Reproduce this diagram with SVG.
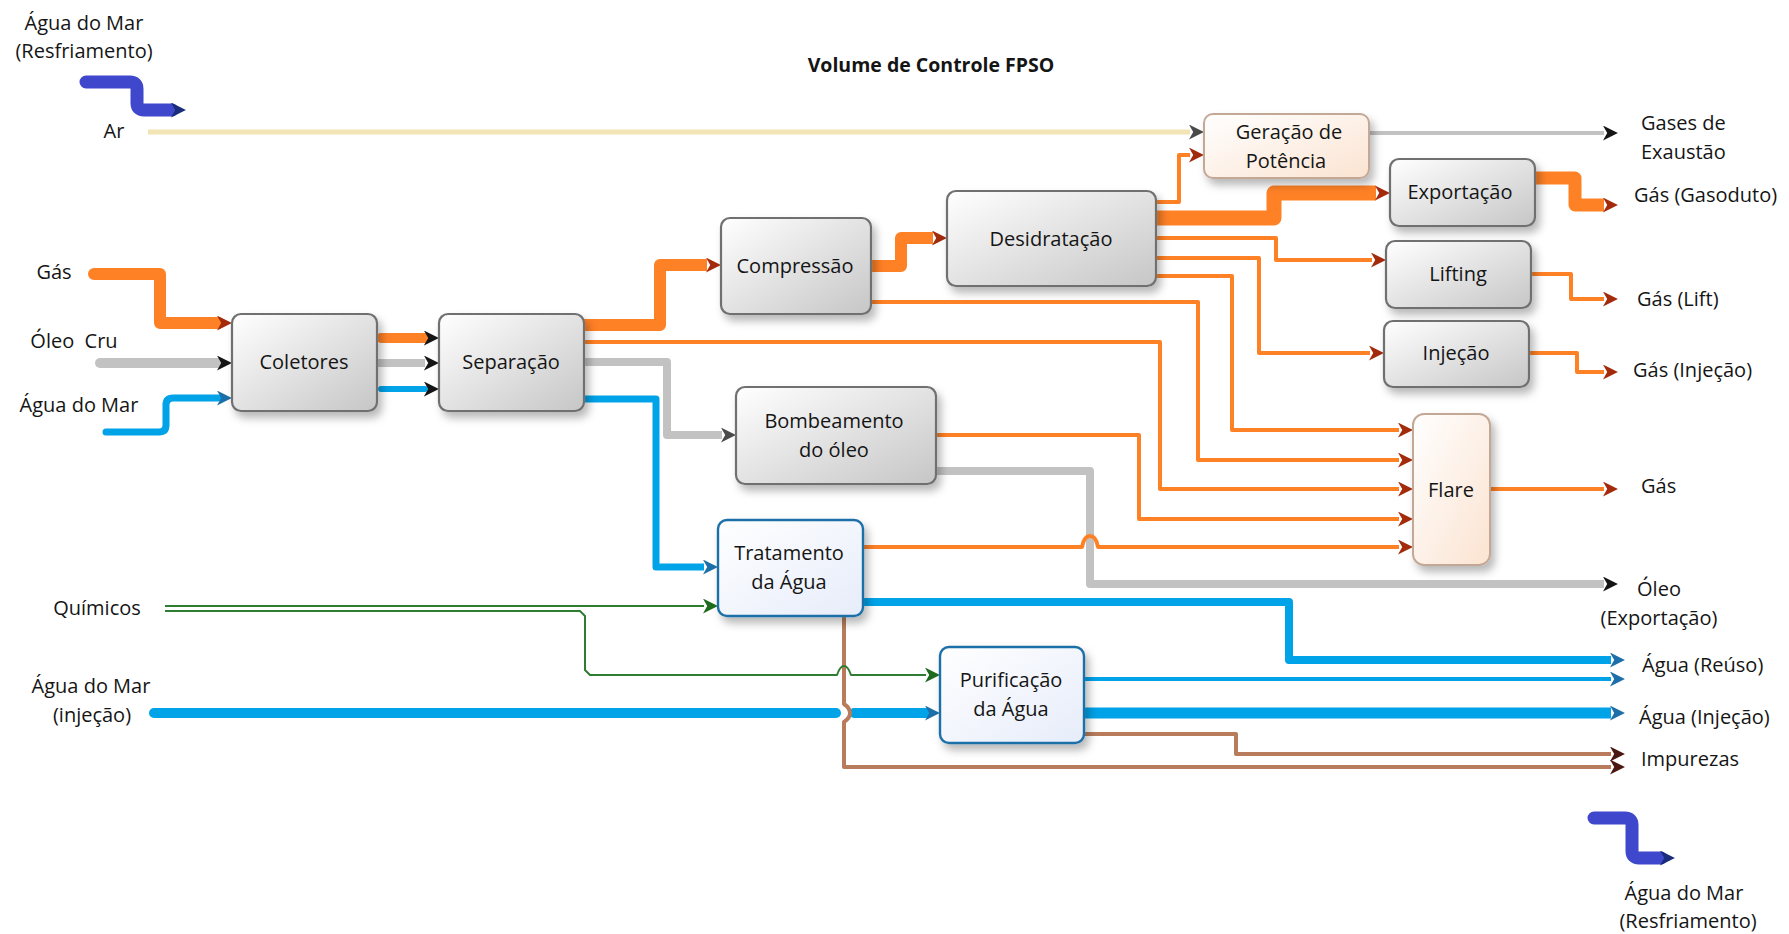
<svg xmlns="http://www.w3.org/2000/svg" width="1789" height="934" viewBox="0 0 1789 934">
  <style>
    text { font-family: "Open Sans", "Liberation Sans", sans-serif; font-size: 20px; fill: #151515; white-space: pre; }
    .c { text-anchor: middle; }
    .title { font-weight: bold; font-size: 19.5px; }
    .box { fill: url(#gGray); stroke: #707070; stroke-width: 2.2; filter: url(#shadow); }
    .peach { fill: url(#gPeach); stroke: #C4A896; stroke-width: 2; filter: url(#shadow); }
    .blue { fill: url(#gBlue); stroke: #1F70A8; stroke-width: 2.4; filter: url(#shadow); }
    .ln { fill: none; stroke-linejoin: round; }
    .or { stroke: #FF8126; }
    .gr { stroke: #C2C2C2; }
    .bl { stroke: #00A2E8; }
    .br { stroke: #B87C5C; }
    .gn { stroke: #2E7D32; }
    .cool { stroke: #3F47CC; stroke-width: 13; stroke-linecap: round; }
  </style>
  <defs>
    <linearGradient id="gGray" x1="0" y1="0" x2="1" y2="1">
      <stop offset="0" stop-color="#FFFFFF"/>
      <stop offset="1" stop-color="#C6C6C6"/>
    </linearGradient>
    <linearGradient id="gPeach" x1="0" y1="0" x2="1" y2="1">
      <stop offset="0" stop-color="#FFFFFF"/>
      <stop offset="1" stop-color="#FBE3D1"/>
    </linearGradient>
    <linearGradient id="gBlue" x1="0" y1="0" x2="1" y2="1">
      <stop offset="0" stop-color="#FFFFFF"/>
      <stop offset="1" stop-color="#E6ECFA"/>
    </linearGradient>
    <filter id="shadow" x="-20%" y="-20%" width="150%" height="150%">
      <feDropShadow dx="4" dy="6" stdDeviation="4" flood-color="#000" flood-opacity="0.28"/>
    </filter>
    <marker id="aRed" viewBox="0 0 14 14" markerWidth="15" markerHeight="15" refX="1" refY="7" orient="auto" markerUnits="userSpaceOnUse">
      <path d="M0,0 L14,7 L0,14 L4,7 z" fill="#A32B0C"/>
    </marker>
    <marker id="aBlk" viewBox="0 0 14 14" markerWidth="15" markerHeight="15" refX="1" refY="7" orient="auto" markerUnits="userSpaceOnUse">
      <path d="M0,0 L14,7 L0,14 L4,7 z" fill="#151515"/>
    </marker>
    <marker id="aGry" viewBox="0 0 14 14" markerWidth="15" markerHeight="15" refX="1" refY="7" orient="auto" markerUnits="userSpaceOnUse">
      <path d="M0,0 L14,7 L0,14 L4,7 z" fill="#4A4A4A"/>
    </marker>
    <marker id="aBlu" viewBox="0 0 14 14" markerWidth="15" markerHeight="15" refX="1" refY="7" orient="auto" markerUnits="userSpaceOnUse">
      <path d="M0,0 L14,7 L0,14 L4,7 z" fill="#1C6FA8"/>
    </marker>
    <marker id="aGrn" viewBox="0 0 14 14" markerWidth="15" markerHeight="15" refX="1" refY="7" orient="auto" markerUnits="userSpaceOnUse">
      <path d="M0,0 L14,7 L0,14 L4,7 z" fill="#1E6B1E"/>
    </marker>
    <marker id="aBrn" viewBox="0 0 14 14" markerWidth="15" markerHeight="15" refX="1" refY="7" orient="auto" markerUnits="userSpaceOnUse">
      <path d="M0,0 L14,7 L0,14 L4,7 z" fill="#4A1810"/>
    </marker>
    <marker id="aNav" viewBox="0 0 14 14" markerWidth="15" markerHeight="15" refX="1" refY="7" orient="auto" markerUnits="userSpaceOnUse">
      <path d="M0,0 L14,7 L0,14 L4,7 z" fill="#1B2C7A"/>
    </marker>
  </defs>

  <rect width="1789" height="934" fill="#FFFFFF"/>

  <text class="title c" x="931" y="72">Volume de Controle FPSO</text>

  <!-- flows between units -->
  <g id="connectors">
    <!-- cooling sea water, in and out -->
    <path class="ln cool" d="M86,82 H130 Q137,82 137,89 V103 Q137,110 144,110 H172" marker-end="url(#aNav)"/>
    <path class="ln cool" d="M1594,818 H1625 Q1632,818 1632,825 V851 Q1632,858 1639,858 H1661" marker-end="url(#aNav)"/>

    <!-- air and exhaust -->
    <path class="ln" stroke="#F2E4B4" stroke-width="5" d="M148,132 H1190" marker-end="url(#aGry)"/>
    <path class="ln gr" stroke-width="4" d="M1369,133 H1604" marker-end="url(#aBlk)"/>

    <!-- inlets to Coletores -->
    <path class="ln or" stroke-width="12" stroke-linecap="round" d="M94,274 H160 V323 H218" marker-end="url(#aRed)"/>
    <path class="ln gr" stroke-width="10" stroke-linecap="round" d="M100,363 H218" marker-end="url(#aBlk)"/>
    <path class="ln bl" stroke-width="7" stroke-linecap="round" d="M106,432 H159 Q166,432 166,425 V405 Q166,398 173,398 H218" marker-end="url(#aBlu)"/>

    <!-- Coletores to Separação -->
    <path class="ln or" stroke-width="10" stroke-linecap="round" d="M381,338 H425" marker-end="url(#aBlk)"/>
    <path class="ln gr" stroke-width="8" d="M377,363 H425" marker-end="url(#aBlk)"/>
    <path class="ln bl" stroke-width="6" stroke-linecap="round" d="M381,389 H425" marker-end="url(#aBlk)"/>

    <!-- Separação outputs -->
    <path class="ln or" stroke-width="12" d="M584,325 H660 V265 H707" marker-end="url(#aRed)"/>
    <path class="ln or" stroke-width="4" d="M584,342 H1160 V489 H1399" marker-end="url(#aRed)"/>
    <path class="ln gr" stroke-width="8" d="M584,362 H667 V435 H722" marker-end="url(#aGry)"/>
    <path class="ln bl" stroke-width="7" d="M584,399 H656 V567 H704" marker-end="url(#aBlu)"/>

    <!-- Compressão outputs -->
    <path class="ln or" stroke-width="12" d="M871,266 H901 V238 H933" marker-end="url(#aRed)"/>
    <path class="ln or" stroke-width="4" d="M871,302 H1198 V460 H1399" marker-end="url(#aRed)"/>

    <!-- Desidratação outputs -->
    <path class="ln or" stroke-width="4" d="M1156,202 H1179 V155 H1190" marker-end="url(#aRed)"/>
    <path class="ln or" stroke-width="15" d="M1156,218 H1274 V193 H1376" marker-end="url(#aRed)"/>
    <path class="ln or" stroke-width="4" d="M1156,238 H1276 V260 H1372" marker-end="url(#aRed)"/>
    <path class="ln or" stroke-width="4" d="M1156,258 H1259 V353 H1370" marker-end="url(#aRed)"/>
    <path class="ln or" stroke-width="4" d="M1156,276 H1232 V430 H1399" marker-end="url(#aRed)"/>

    <!-- Bombeamento outputs -->
    <path class="ln or" stroke-width="4" d="M936,435 H1139 V519 H1399" marker-end="url(#aRed)"/>
    <path class="ln gr" stroke-width="8" d="M936,471 H1090 V584 H1604" marker-end="url(#aBlk)"/>

    <!-- Tratamento to Flare, hopping the oil line -->
    <path class="ln or" stroke-width="4" d="M863,547 H1082 Q1084,536 1090,536 Q1096,536 1098,547 H1399" marker-end="url(#aRed)"/>

    <!-- gas products -->
    <path class="ln or" stroke-width="4" d="M1490,489 H1604" marker-end="url(#aRed)"/>
    <path class="ln or" stroke-width="13" d="M1535,178 H1575 V205 H1604" marker-end="url(#aRed)"/>
    <path class="ln or" stroke-width="4" d="M1531,274 H1571 V299 H1604" marker-end="url(#aRed)"/>
    <path class="ln or" stroke-width="4" d="M1529,353 H1577 V372 H1604" marker-end="url(#aRed)"/>

    <!-- water lines -->
    <path class="ln bl" stroke-width="8" d="M863,602 H1289 V660 H1611" marker-end="url(#aBlu)"/>
    <path class="ln bl" stroke-width="10" stroke-linecap="round" d="M154,713 H836"/>
    <path class="ln bl" stroke-width="10" stroke-linecap="round" d="M854,713 H926" marker-end="url(#aBlu)"/>
    <path class="ln bl" stroke-width="4" d="M1084,679 H1611" marker-end="url(#aBlu)"/>
    <path class="ln bl" stroke-width="11" d="M1084,713 H1611" marker-end="url(#aBlu)"/>

    <!-- impurities -->
    <path class="ln br" stroke-width="4" d="M844,616 V704 Q850,708 850,713 Q850,718 844,722 V767 H1611" marker-end="url(#aBrn)"/>
    <path class="ln br" stroke-width="4" d="M1084,734 H1236 V754 H1611" marker-end="url(#aBrn)"/>

    <!-- chemicals -->
    <path class="ln gn" stroke-width="2" d="M165,606 H704" marker-end="url(#aGrn)"/>
    <path class="ln gn" stroke-width="2" d="M165,611 H580 L585,616 V670 L590,675 H837 Q840,666 844,666 Q848,666 851,675 H926" marker-end="url(#aGrn)"/>
  </g>

  <!-- process units -->
  <g id="coletores">
    <rect class="box" x="232" y="314" width="145" height="97" rx="9"/>
    <text class="c" x="304" y="369">Coletores</text>
  </g>
  <g id="separacao">
    <rect class="box" x="439" y="314" width="145" height="97" rx="9"/>
    <text class="c" x="511" y="369">Separação</text>
  </g>
  <g id="compressao">
    <rect class="box" x="721" y="218" width="150" height="96" rx="9"/>
    <text class="c" x="795" y="273">Compressão</text>
  </g>
  <g id="desidratacao">
    <rect class="box" x="947" y="191" width="209" height="95" rx="9"/>
    <text class="c" x="1051" y="246">Desidratação</text>
  </g>
  <g id="geracao">
    <rect class="peach" x="1204" y="114" width="165" height="64" rx="9"/>
    <text class="c" x="1289" y="139">Geração de</text>
    <text class="c" x="1286" y="168">Potência</text>
  </g>
  <g id="exportacao">
    <rect class="box" x="1390" y="159" width="145" height="67" rx="9"/>
    <text class="c" x="1460" y="199">Exportação</text>
  </g>
  <g id="lifting">
    <rect class="box" x="1386" y="241" width="145" height="67" rx="9"/>
    <text class="c" x="1458" y="281">Lifting</text>
  </g>
  <g id="injecao">
    <rect class="box" x="1384" y="321" width="145" height="66" rx="9"/>
    <text class="c" x="1456" y="360">Injeção</text>
  </g>
  <g id="flare">
    <rect class="peach" x="1413" y="414" width="77" height="151" rx="11"/>
    <text class="c" x="1451" y="497">Flare</text>
  </g>
  <g id="bombeamento">
    <rect class="box" x="736" y="387" width="200" height="97" rx="9"/>
    <text class="c" x="834" y="428">Bombeamento</text>
    <text class="c" x="834" y="457">do óleo</text>
  </g>
  <g id="tratamento">
    <rect class="blue" x="718" y="520" width="145" height="96" rx="9"/>
    <text class="c" x="789" y="560">Tratamento</text>
    <text class="c" x="789" y="589">da Água</text>
  </g>
  <g id="purificacao">
    <rect class="blue" x="940" y="647" width="144" height="96" rx="9"/>
    <text class="c" x="1011" y="687">Purificação</text>
    <text class="c" x="1011" y="716">da Água</text>
  </g>

  <!-- stream labels -->
  <g id="labels">
    <text class="c" x="84" y="30">Água do Mar</text>
    <text class="c" x="84" y="58">(Resfriamento)</text>
    <text class="c" x="114" y="138">Ar</text>
    <text class="c" x="54" y="279">Gás</text>
    <text class="c" x="74" y="348">Óleo  Cru</text>
    <text class="c" x="79" y="412">Água do Mar</text>
    <text class="c" x="97" y="615">Químicos</text>
    <text class="c" x="91" y="693">Água do Mar</text>
    <text class="c" x="92" y="722">(injeção)</text>

    <text x="1641" y="130">Gases de</text>
    <text x="1641" y="159">Exaustão</text>
    <text x="1634" y="202">Gás (Gasoduto)</text>
    <text x="1637" y="306">Gás (Lift)</text>
    <text x="1633" y="377">Gás (Injeção)</text>
    <text x="1641" y="493">Gás</text>
    <text class="c" x="1659" y="596">Óleo</text>
    <text class="c" x="1659" y="625">(Exportação)</text>
    <text x="1642" y="672">Água (Reúso)</text>
    <text x="1639" y="724">Água (Injeção)</text>
    <text x="1641" y="766">Impurezas</text>
    <text class="c" x="1684" y="900">Água do Mar</text>
    <text class="c" x="1688" y="928">(Resfriamento)</text>
  </g>
</svg>
